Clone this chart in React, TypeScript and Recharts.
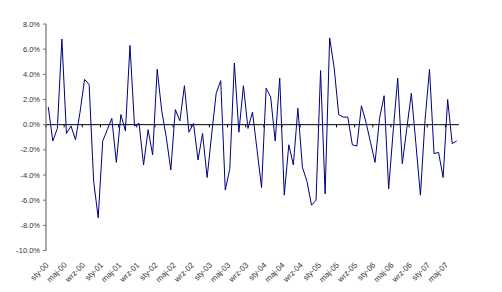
import { LineChart, Line, XAxis, YAxis, ReferenceLine } from "recharts";

// monthly change, sty-00 .. lip-07 (91 months), in %
const VALUES = [
  1.4, -1.3, -0.3, 6.8, -0.7, -0.1, -1.2, 1.0, 3.6, 3.2, -4.5, -7.4,
  -1.3, -0.4, 0.5, -3.0, 0.8, -0.5, 6.3, -0.1, 0.1, -3.2, -0.4, -2.4,
  4.4, 1.1, -1.0, -3.6, 1.2, 0.3, 3.1, -0.6, 0.1, -2.8, -0.7, -4.2,
  -0.8, 2.5, 3.5, -5.2, -3.5, 4.9, -0.6, 3.1, -0.3, 1.0, -2.0, -5.0,
  2.9, 2.2, -1.3, 3.7, -5.6, -1.6, -3.2, 1.3, -3.4, -4.5, -6.4, -6.0,
  4.3, -5.5, 6.9, 4.5, 0.8, 0.6, 0.6, -1.6, -1.7, 1.5, 0.2, -1.4,
  -3.0, 0.5, 2.3, -5.1, -0.5, 3.7, -3.1, -0.3, 2.5, -1.5, -5.6, 0.3,
  4.4, -2.3, -2.2, -4.2, 2.0, -1.5, -1.3,
];

// one label every 4 months
const TICK_LABELS = [
  "sty-00", "maj-00", "wrz-00", "sty-01", "maj-01", "wrz-01",
  "sty-02", "maj-02", "wrz-02", "sty-03", "maj-03", "wrz-03",
  "sty-04", "maj-04", "wrz-04", "sty-05", "maj-05", "wrz-05",
  "sty-06", "maj-06", "wrz-06", "sty-07", "maj-07",
];

const Y_TICKS = [-10, -8, -6, -4, -2, 0, 2, 4, 6, 8];

const LINE_COLOR = "#000080";
const TEXT_COLOR = "#333333";
const AXIS_COLOR = "#707070";
const FONT = "'Liberation Sans', Arial, sans-serif";

const data = VALUES.map((v, i) => ({ pos: i + 0.5, value: v }));
const labelPos = TICK_LABELS.map((_, k) => k * 4 + 0.5);
const tickMarks = TICK_LABELS.map((_, k) => k * 4);

function MonthTick({ x, y, payload }: any) {
  const label = TICK_LABELS[Math.round((payload.value - 0.5) / 4)];
  const ty = y + 13;
  const tx = x - 1;
  return (
    <text
      x={tx}
      y={ty}
      dy="0.35em"
      textAnchor="end"
      transform={`rotate(-45, ${tx}, ${ty})`}
      fill={TEXT_COLOR}
      fontSize={8}
      fontFamily={FONT}
    >
      {label}
    </text>
  );
}

export default function App() {
  return (
    <div style={{ position: "absolute", left: 0, top: 0, background: "#fff" }}>
      <LineChart width={502} height={292} data={data} margin={{ top: 24, right: 43, bottom: 0, left: 0 }}>
        <XAxis
          dataKey="pos"
          type="number"
          domain={[0, 91]}
          ticks={labelPos}
          interval={0}
          axisLine={false}
          tickLine={false}
          tickSize={0}
          tickMargin={0}
          height={41.5}
          tick={<MonthTick />}
        />
        <YAxis
          domain={[-10, 8]}
          ticks={Y_TICKS}
          allowDataOverflow
          width={46}
          tickSize={3}
          tickMargin={3}
          axisLine={{ stroke: AXIS_COLOR, strokeWidth: 1.2 }}
          tickLine={{ stroke: AXIS_COLOR }}
          tickFormatter={(v: number) => v.toFixed(1) + "%"}
          tick={{ fill: TEXT_COLOR, fontSize: 7.5, fontFamily: FONT }}
        />
        <ReferenceLine y={0} stroke="#000" strokeWidth={1} />
        {tickMarks.map((t) => (
          <ReferenceLine
            key={t}
            segment={[{ x: t, y: 0 }, { x: t, y: -0.22 }]}
            stroke="#000"
            strokeWidth={1}
          />
        ))}
        <Line
          type="linear"
          dataKey="value"
          stroke={LINE_COLOR}
          strokeWidth={1}
          dot={false}
          isAnimationActive={false}
        />
      </LineChart>
    </div>
  );
}
